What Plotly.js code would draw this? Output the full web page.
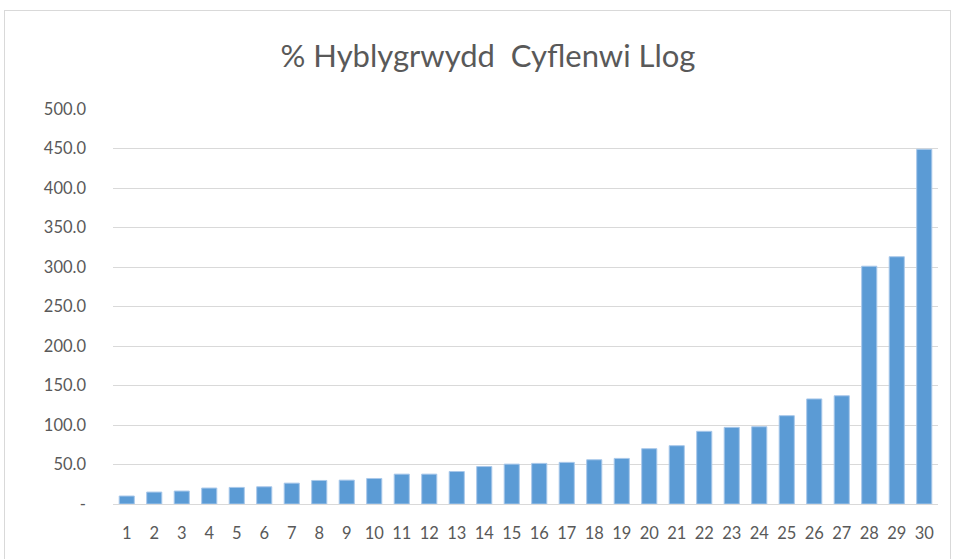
<!DOCTYPE html>
<html><head><meta charset="utf-8">
<script src="https://cdn.plot.ly/plotly-3.0.1.min.js"></script>
<style>html,body{margin:0;padding:0;background:#fff;}#wrap{position:relative;width:955px;height:559px;overflow:hidden;}
#frame{position:absolute;left:4px;top:10px;width:945px;height:560px;border:1px solid #d9d9d9;pointer-events:none;}</style>
</head><body>
<div id="wrap"><div id="chart" style="width:955px;height:559px;"></div><div id="frame"></div></div>
<script>
const categories = ["1","2","3","4","5","6","7","8","9","10","11","12","13","14","15","16","17","18","19","20","21","22","23","24","25","26","27","28","29","30"];
const values = [10.1,15.1,16.4,20.2,21.0,21.8,26.4,29.8,30.2,32.3,37.8,37.8,41.1,47.4,50.5,51.4,52.7,56.0,57.7,70.0,73.8,92.0,97.0,97.8,111.8,133.0,137.0,301.0,313.0,449.0];
const yTickVals = [0,50,100,150,200,250,300,350,400,450,500];
const yTickText = ["-","50.0","100.0","150.0","200.0","250.0","300.0","350.0","400.0","450.0","500.0"];
const titleText = "% Hyblygrwydd  Cyflenwi Llog";

Plotly.newPlot("chart", [{
  type: "bar", x: categories, y: values,
  marker: {color: "#5B9BD5", line: {color: "#a9c8ea", width: 1}},
  hoverinfo: "x+y"
}], {
  width: 955, height: 559,
  margin: {l: 113, r: 17, t: 109, b: 55},
  paper_bgcolor: "#fff", plot_bgcolor: "#fff",
  font: {family: "Lato, 'Open Sans', sans-serif", color: "#595959", size: 16.5},
  title: {text: titleText, font: {size: 31, color: "#595959"}, x: 0.511, xref: "container", xanchor: "center", y: 0.9, yref: "container", yanchor: "middle"},
  bargap: 0.45,
  showlegend: false,
  xaxis: {type: "category", showgrid: false, zeroline: false, showline: false, ticks: "", ticklabelstandoff: 17, tickfont: {size: 16.5, color: "#595959"}},
  yaxis: {range: [0, 500], tickvals: yTickVals, ticktext: yTickText, showgrid: true, gridcolor: "#d9d9d9", gridwidth: 1, zeroline: true, zerolinecolor: "#d9d9d9", zerolinewidth: 1, showline: false, ticks: "", ticklabelstandoff: 26, tickfont: {size: 16.5, color: "#595959"}}
}, {displayModeBar: false, staticPlot: true});
</script>
</body></html>
